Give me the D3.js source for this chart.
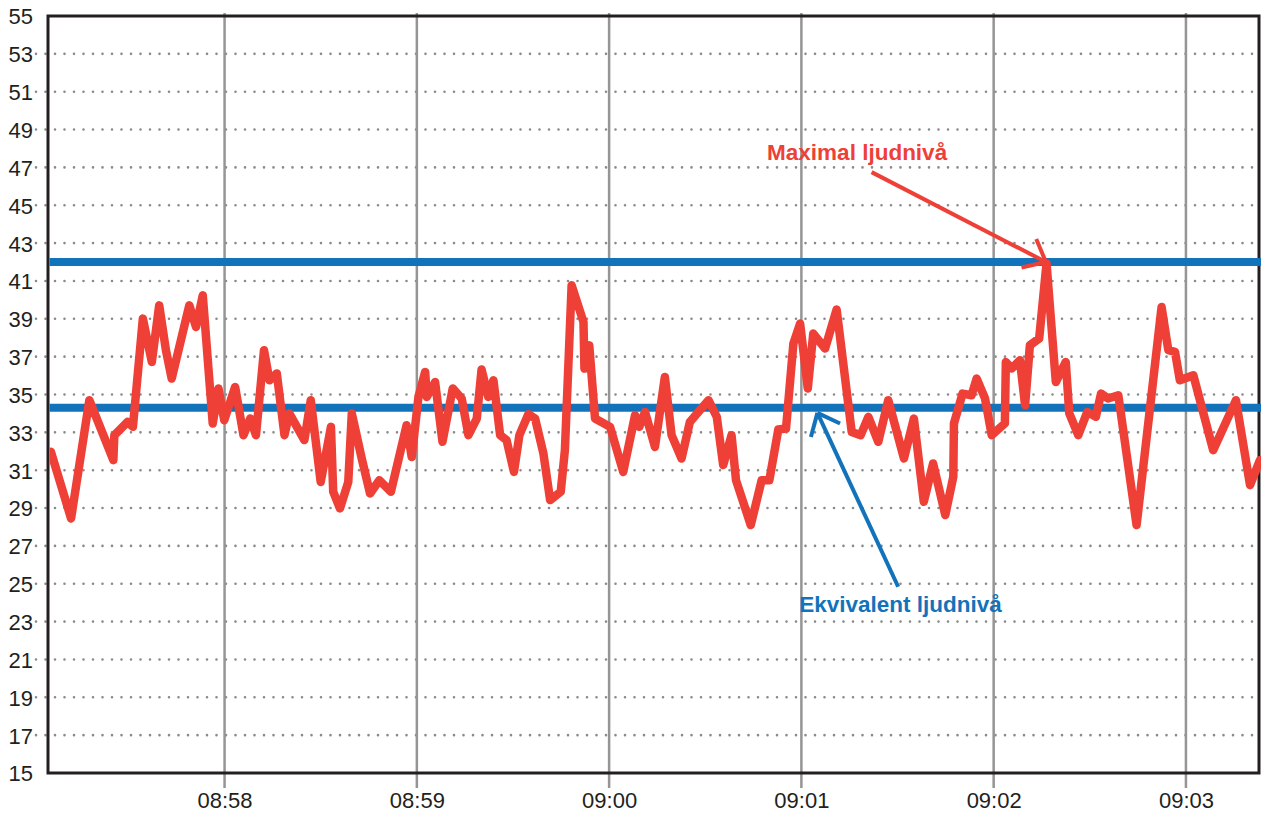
<!DOCTYPE html>
<html lang="sv">
<head>
  <meta charset="UTF-8">
  <title>Ljudnivå</title>
  <script src="https://d3js.org/d3.v7.min.js"></script>
  <style>
    body {
      margin: 0;
      background: #fff;
    }
    svg {
      display: block;
      font-family: "Liberation Sans", Arial, Helvetica, sans-serif;
    }
  </style>
</head>
<body>
  <svg id="chart" width="1261" height="814"></svg>

  <script>
// seconds after 08:57:00
const secs = [
  5.8, 12.1, 17.8, 25.3, 25.6, 29.7, 31.4, 34.5, 37.3, 39.6,
  41.7, 43.5, 49.0, 51.1, 53.2, 56.3, 58.1, 59.9, 63.3, 65.9,
  68.0, 69.8, 72.3, 74.0, 76.3, 78.7, 80.2, 84.9, 86.9, 90.0,
  93.2, 93.9, 96.0, 98.6, 99.7, 102.8, 105.4, 108.3, 111.9, 116.8,
  118.4, 120.5, 122.6, 123.1, 125.7, 128.0, 131.2, 134.0, 136.1, 138.7,
  140.2, 142.3, 143.9, 146.0, 148.0, 150.3, 152.0, 154.8, 156.9, 159.5,
  161.6, 164.9, 166.2, 168.3, 172.0, 172.3, 173.8, 175.6, 180.3, 184.4,
  188.1, 189.4, 191.2, 194.3, 197.4, 199.5, 202.6, 205.2, 211.0, 213.6,
  215.6, 218.2, 219.6, 224.2, 227.6, 230.0, 232.8, 235.2, 237.5, 239.6,
  242.0, 243.7, 247.4, 251.0, 255.7, 258.5, 260.9, 264.0, 267.1, 272.0,
  275.1, 278.2, 281.1, 284.9, 287.4, 287.6, 290.3, 293.1, 294.7, 297.3,
  299.4, 303.5, 303.8, 305.6, 308.2, 309.8, 311.3, 314.2, 316.5, 319.4,
  322.5, 323.6, 326.4, 329.2, 331.9, 333.5, 335.7, 338.9, 344.6, 352.4,
  354.5, 356.6, 358.1, 362.3, 368.5, 375.6, 380.0, 383.1
];

// dB
const levels = [
  31.97, 28.45, 34.7, 31.53, 32.85, 33.55, 33.29, 39.01, 36.72, 39.71,
  37.34, 35.84, 39.71, 38.57, 40.24, 33.47, 35.32, 33.64, 35.4, 32.85,
  33.73, 32.85, 37.34, 35.75, 36.11, 32.85, 34.0, 32.59, 34.7, 30.38,
  33.29, 29.86, 28.98, 30.38, 34.0, 31.62, 29.77, 30.47, 29.86, 33.38,
  31.7, 34.87, 36.19, 34.87, 35.66, 32.5, 35.32, 34.79, 32.85, 33.73,
  36.32, 34.87, 35.75, 32.85, 32.59, 30.91, 32.85, 33.96, 33.73, 31.88,
  29.42, 29.86, 32.06, 40.77, 38.83, 36.37, 37.6, 33.73, 33.29, 30.91,
  33.91, 33.29, 34.08, 32.23, 35.93, 32.85, 31.62, 33.55, 34.7, 33.82,
  31.27, 32.85, 30.47, 28.1, 30.47, 30.47, 33.15, 33.2, 37.69, 38.75,
  35.32, 38.22, 37.43, 39.49, 33.02, 32.85, 33.82, 32.5, 34.7, 31.62,
  33.73, 29.33, 31.36, 28.63, 30.65, 33.47, 35.05, 34.96, 35.84, 34.79,
  32.85, 33.47, 36.72, 36.37, 36.81, 34.43, 37.6, 37.96, 41.92, 35.66,
  36.72, 34.0, 32.85, 34.08, 33.82, 35.05, 34.79, 34.96, 28.1, 39.62,
  37.34, 37.25, 35.75, 36.02, 32.06, 34.7, 30.21, 31.53
];

const maxLevel = 42;
const eqLevel = 34.3;
const yTicks = d3.range(15, 56, 2);

// annotations: [seconds, dB] for label, arrow tail and tip
const maxLabel = { text: "Maximal ljudnivå", at: [229.3, 47.4], tail: [261.9, 46.75], tip: [316.3, 42.0] };
const eqLabel = { text: "Ekvivalent ljudnivå", at: [239.3, 23.5], tail: [270.2, 24.84], tip: [245.0, 34.03] };

const base = new Date(2024, 0, 1, 8, 57, 0);
const toDate = s => new Date(+base + s * 1000);

const data = secs.map((s, i) => ({ t: toDate(s), v: levels[i] }));

const svg = d3.select("#chart");
const plotLeft = 48, plotRight = 1259, plotTop = 16, plotBottom = 773;

const x = d3.scaleTime()
  .domain([toDate(4.9), toDate(382.8)])
  .range([plotLeft, plotRight]);

const y = d3.scaleLinear()
  .domain([15, 55])
  .range([plotBottom, plotTop]);

const red = "#ee4037";
const blue = "#1273ba";
const ink = "#231f20";

// dotted horizontal grid
svg.append("g")
  .selectAll("line")
  .data(yTicks.filter(d => d > 15 && d < 55))
  .join("line")
  .attr("x1", 36).attr("x2", 1256)
  .attr("y1", d => y(d)).attr("y2", d => y(d))
  .attr("stroke", "#8a8a8a")
  .attr("stroke-width", 2.6)
  .attr("stroke-linecap", "round")
  .attr("stroke-dasharray", "0 9.5");

// x axis with full-height gridlines
const minutes = d3.timeMinute.range(x.domain()[0], x.domain()[1]);
svg.append("g")
  .selectAll("line")
  .data(minutes)
  .join("line")
  .attr("x1", d => x(d)).attr("x2", d => x(d))
  .attr("y1", 13).attr("y2", 788)
  .attr("stroke", "#959595")
  .attr("stroke-width", 2.5);

const xAxis = svg.append("g")
  .attr("transform", `translate(0,${plotBottom})`)
  .call(d3.axisBottom(x).tickValues(minutes).tickFormat(d3.timeFormat("%H:%M")).tickSize(0));
xAxis.select(".domain").remove();
xAxis.selectAll("text")
  .attr("y", 35)
  .attr("dy", null)
  .attr("fill", ink)
  .attr("font-size", "22px")
  .attr("font-family", "'Liberation Sans', Arial, sans-serif");

// y axis labels
const yAxis = svg.append("g")
  .attr("transform", `translate(${plotLeft},0)`)
  .call(d3.axisLeft(y).tickValues(yTicks).tickSize(0).tickPadding(15));
yAxis.select(".domain").remove();
yAxis.selectAll("text")
  .attr("fill", ink)
  .attr("dy", "0.36em")
  .attr("font-size", "22px")
  .attr("font-family", "'Liberation Sans', Arial, sans-serif");

// frame
svg.append("rect")
  .attr("x", plotLeft).attr("y", plotTop)
  .attr("width", plotRight - plotLeft).attr("height", plotBottom - plotTop)
  .attr("fill", "none")
  .attr("stroke", ink)
  .attr("stroke-width", 3);

// reference levels
svg.append("g")
  .selectAll("line")
  .data([maxLevel, eqLevel])
  .join("line")
  .attr("x1", plotLeft + 1.5).attr("x2", 1261)
  .attr("y1", d => y(d)).attr("y2", d => y(d))
  .attr("stroke", blue)
  .attr("stroke-width", 8);

// measured level
svg.append("clipPath").attr("id", "plot")
  .append("rect")
  .attr("x", plotLeft + 1.5).attr("y", 0)
  .attr("width", 1261 - plotLeft).attr("height", 814);

svg.append("path")
  .datum(data)
  .attr("clip-path", "url(#plot)")
  .attr("fill", "none")
  .attr("stroke", red)
  .attr("stroke-width", 8.5)
  .attr("stroke-linejoin", "round")
  .attr("stroke-linecap", "round")
  .attr("d", d3.line().x(d => x(d.t)).y(d => y(d.v)));

// annotation arrows
function arrow(a, color) {
  const x0 = x(toDate(a.tail[0])), y0 = y(a.tail[1]);
  const x1 = x(toDate(a.tip[0])), y1 = y(a.tip[1]);
  const ang = Math.atan2(y0 - y1, x0 - x1);
  const len = 25, spread = 40 * Math.PI / 180;
  const g = svg.append("g")
    .attr("stroke", color)
    .attr("stroke-width", 4)
    .attr("fill", "none");
  g.append("line").attr("x1", x0).attr("y1", y0).attr("x2", x1).attr("y2", y1);
  [-spread, spread].forEach(s => {
    g.append("line")
      .attr("x1", x1).attr("y1", y1)
      .attr("x2", x1 + len * Math.cos(ang + s))
      .attr("y2", y1 + len * Math.sin(ang + s));
  });
  svg.append("text")
    .attr("x", x(toDate(a.at[0])))
    .attr("y", y(a.at[1]))
    .attr("fill", color)
    .attr("font-size", "22.5px")
    .attr("font-weight", "bold")
    .text(a.text);
}

arrow(maxLabel, red);
arrow(eqLabel, blue);
  </script>
</body>
</html>
